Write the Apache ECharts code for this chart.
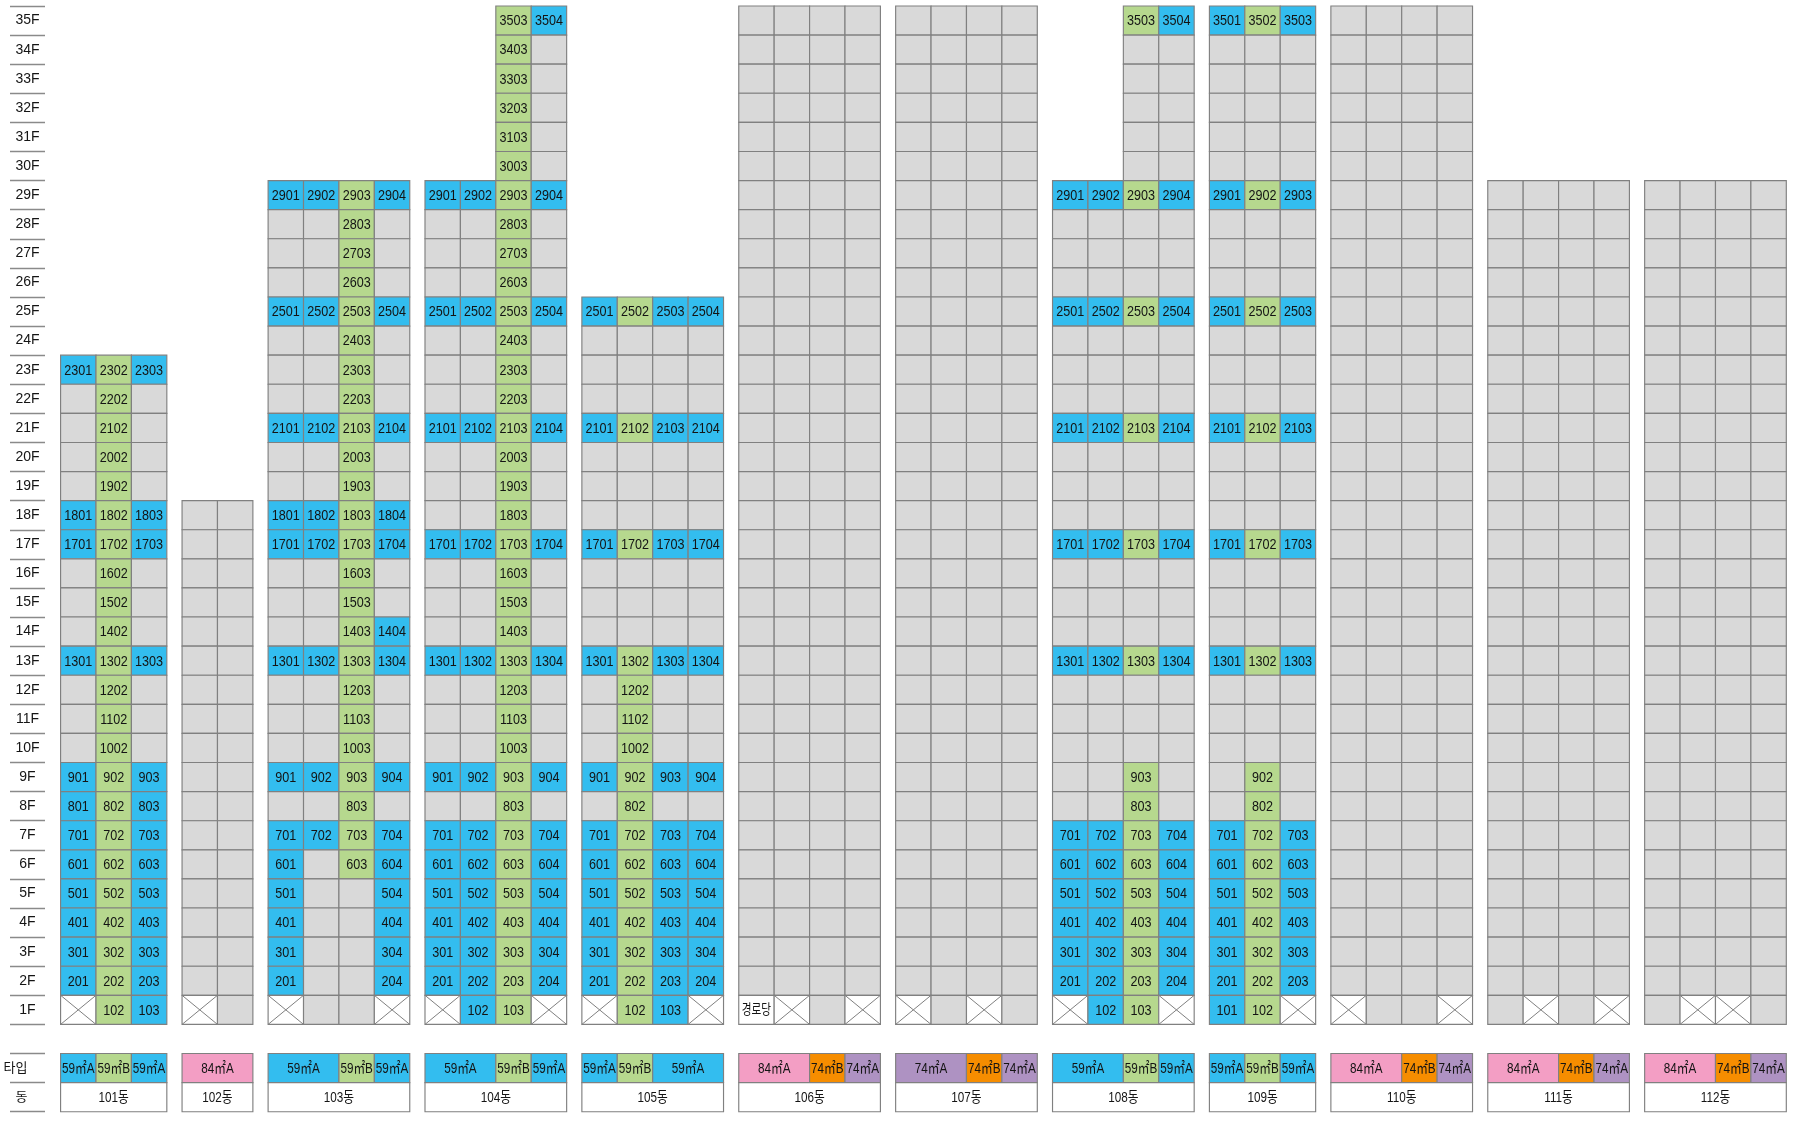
<!DOCTYPE html>
<html><head><meta charset="utf-8">
<style>html,body{margin:0;padding:0;background:#fff}#c{width:1800px;height:1141px}</style>
<script src="https://cdn.jsdelivr.net/npm/echarts@6/dist/echarts.min.js"></script>
</head><body><div id="c"></div>
<script>
// Floor labels, top to bottom, then the two footer rows.
const floors = ['35F','34F','33F','32F','31F','30F','29F','28F','27F','26F','25F','24F','23F','22F','21F','20F','19F','18F','17F','16F','15F','14F','13F','12F','11F','10F','9F','8F','7F','6F','5F','4F','3F','2F','1F'];
const typeRowLabel = '타입';
const dongRowLabel = '동';

// Building names
const buildings = ['101동','102동','103동','104동','105동','106동','107동','108동','109동','110동','111동','112동'];

// Unit status per floor, from each building's top floor down to 1F.
// B = blue type unit, G = green type unit, . = unlabelled grey, X = crossed out, K = 경로당, _ = no unit
const b101 = ['BGB','.G.','.G.','.G.','.G.','BGB','BGB','.G.','.G.','.G.','BGB','.G.','.G.','.G.','BGB','BGB','BGB','BGB','BGB','BGB','BGB','BGB','XGB'];
const b102 = ['..','..','..','..','..','..','..','..','..','..','..','..','..','..','..','..','..','X.'];
const b103 = ['BBGB','..G.','..G.','..G.','BBGB','..G.','..G.','..G.','BBGB','..G.','..G.','BBGB','BBGB','..G.','..G.','..GB','BBGB','..G.','..G.','..G.','BBGB','..G.','BBGB','B.GB','B..B','B..B','B..B','B..B','X..X'];
const b104 = ['__GB','__G.','__G.','__G.','__G.','__G.','BBGB','..G.','..G.','..G.','BBGB','..G.','..G.','..G.','BBGB','..G.','..G.','..G.','BBGB','..G.','..G.','..G.','BBGB','..G.','..G.','..G.','BBGB','..G.','BBGB','BBGB','BBGB','BBGB','BBGB','BBGB','XBGX'];
const b105 = ['BGBB','....','....','....','BGBB','....','....','....','BGBB','....','....','....','BGBB','.G..','.G..','.G..','BGBB','.G..','BGBB','BGBB','BGBB','BGBB','BGBB','BGBB','XGBX'];
const b106 = ['....','....','....','....','....','....','....','....','....','....','....','....','....','....','....','....','....','....','....','....','....','....','....','....','....','....','....','....','....','....','....','....','....','....','KX.X'];
const b107 = ['....','....','....','....','....','....','....','....','....','....','....','....','....','....','....','....','....','....','....','....','....','....','....','....','....','....','....','....','....','....','....','....','....','....','X.X.'];
const b108 = ['__GB','__..','__..','__..','__..','__..','BBGB','....','....','....','BBGB','....','....','....','BBGB','....','....','....','BBGB','....','....','....','BBGB','....','....','....','..G.','..G.','BBGB','BBGB','BBGB','BBGB','BBGB','BBGB','XBGX'];
const b109 = ['BGB','...','...','...','...','...','BGB','...','...','...','BGB','...','...','...','BGB','...','...','...','BGB','...','...','...','BGB','...','...','...','.G.','.G.','BGB','BGB','BGB','BGB','BGB','BGB','BGX'];
const b110 = ['....','....','....','....','....','....','....','....','....','....','....','....','....','....','....','....','....','....','....','....','....','....','....','....','....','....','....','....','....','....','....','....','....','....','X..X'];
const b111 = ['....','....','....','....','....','....','....','....','....','....','....','....','....','....','....','....','....','....','....','....','....','....','....','....','....','....','....','....','.X.X'];
const b112 = ['....','....','....','....','....','....','....','....','....','....','....','....','....','....','....','....','....','....','....','....','....','....','....','....','....','....','....','....','.XX.'];
const buildingRows = [b101,b102,b103,b104,b105,b106,b107,b108,b109,b110,b111,b112];

// Unit type bands per building: [type, number of columns]
const t101 = [['59㎡A',1],['59㎡B',1],['59㎡A',1]];
const t102 = [['84㎡A',2]];
const t103 = [['59㎡A',2],['59㎡B',1],['59㎡A',1]];
const t104 = [['59㎡A',2],['59㎡B',1],['59㎡A',1]];
const t105 = [['59㎡A',1],['59㎡B',1],['59㎡A',2]];
const t106 = [['84㎡A',2],['74㎡B',1],['74㎡A',1]];
const t107 = [['74㎡A',2],['74㎡B',1],['74㎡A',1]];
const t108 = [['59㎡A',2],['59㎡B',1],['59㎡A',1]];
const t109 = [['59㎡A',1],['59㎡B',1],['59㎡A',1]];
const t110 = [['84㎡A',2],['74㎡B',1],['74㎡A',1]];
const t111 = [['84㎡A',2],['74㎡B',1],['74㎡A',1]];
const t112 = [['84㎡A',2],['74㎡B',1],['74㎡A',1]];
const buildingTypes = [t101,t102,t103,t104,t105,t106,t107,t108,t109,t110,t111,t112];

const seniorHall = '경로당';

// Styles
const FONT = '"Liberation Sans","Noto Sans CJK KR",sans-serif';
const BORDER = '#808080';
const TEXT = '#141414';
const colours = {B:'#33bdef', G:'#b6d88e', '.':'#d9d9d9', X:'#ffffff', K:'#ffffff', dong:'#ffffff',
  '59㎡A':'#33bdef','59㎡B':'#b6d88e','84㎡A':'#f39ec4','74㎡B':'#f68d00','74㎡A':'#ae92c2'};
const GAP = 0.43;
const squeeze = {unit:0.84, type:0.78, dong:0.78, hall:0.76};

const yLabels = floors.concat(['', typeRowLabel, dongRowLabel]);
const items = [];
let cursor = 0;
buildings.forEach((name, bi) => {
  const rows = buildingRows[bi];
  const cols = rows[0].length;
  rows.forEach((row, ri) => {
    const floorIdx = floors.length - rows.length + ri;
    const floorNo = parseInt(floors[floorIdx]);
    [...row].forEach((code, c) => {
      if (code === '_') return;
      let label = '';
      if (code === 'B' || code === 'G') label = String(floorNo * 100 + c + 1);
      if (code === 'K') label = seniorHall;
      items.push({value:[cursor + c, floorIdx, 1], code, label, kind: code === 'K' ? 'hall' : 'unit'});
    });
  });
  let c = 0;
  buildingTypes[bi].forEach(([t, span]) => {
    items.push({value:[cursor + c, yLabels.indexOf(typeRowLabel), span], code:t, label:t, kind:'type'});
    c += span;
  });
  items.push({value:[cursor, yLabels.indexOf(dongRowLabel), cols], code:'dong', label:name, kind:'dong'});
  cursor += cols + GAP;
});
const xMax = cursor - GAP;

function renderItem(params, api) {
  const it = items[params.dataIndex];
  const x0 = api.value(0), yi = api.value(1), span = api.value(2);
  const p1 = api.coord([x0, yi]);
  const p2 = api.coord([x0 + span, yi]);
  const h = api.size([1, 1])[1];
  const l = p1[0], r = p2[0], t = p1[1] - h / 2, b = p1[1] + h / 2;
  const children = [{type:'rect', shape:{x:l, y:t, width:r - l, height:b - t},
    style:{fill:colours[it.code], stroke:BORDER, lineWidth:1.15}}];
  if (it.code === 'X') {
    children.push({type:'line', shape:{x1:l,y1:t,x2:r,y2:b}, style:{stroke:BORDER, lineWidth:1}});
    children.push({type:'line', shape:{x1:r,y1:t,x2:l,y2:b}, style:{stroke:BORDER, lineWidth:1}});
  }
  if (it.label) {
    children.push({type:'text', x:(l + r) / 2, y:(t + b) / 2 + 0.7, scaleX:squeeze[it.kind],
      style:{text:it.label, fill:TEXT, font:(it.kind === 'hall' ? 14 : 15) + 'px ' + FONT, align:'center', verticalAlign:'middle'}});
  }
  return {type:'group', children};
}

const chart = echarts.init(document.getElementById('c'), null, {renderer:'canvas'});
chart.setOption({
  animation:false,
  backgroundColor:'#fff',
  grid:{left:45, right:13.7, top:6, bottom:29.3, containLabel:false, outerBoundsMode:'none'},
  xAxis:{type:'value', min:-0.44, max:xMax, show:false, splitLine:{show:false}},
  yAxis:{type:'category', inverse:true,
    data:yLabels.map(v => (v === typeRowLabel || v === dongRowLabel) ? {value:v, textStyle:{fontSize:13}} : v),
    axisLine:{show:false, onZero:false},
    axisTick:{show:true, interval:0, length:35, alignWithLabel:false, lineStyle:{color:'#8a8a8a', width:1.3}},
    axisLabel:{interval:0, align:'center', margin:17.5, color:TEXT, fontSize:14, fontFamily:FONT, padding:[0,0,-2,0]},
    splitLine:{show:false}},
  series:[{type:'custom', renderItem, clip:false, data:items.map(d => d.value),
    encode:{x:0, y:1}, silent:true}]
});
</script></body></html>
